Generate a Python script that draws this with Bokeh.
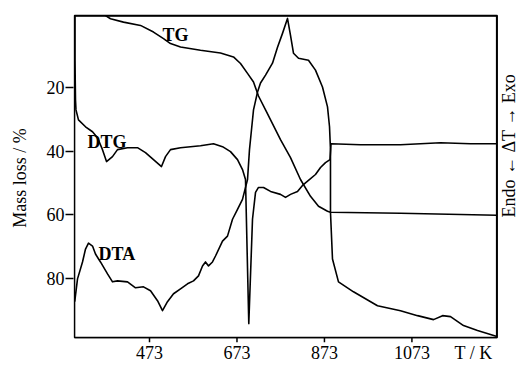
import math
from bokeh.plotting import figure
from bokeh.models import Range1d, FixedTicker, Label, BoxAnnotation
from bokeh.core.properties import value
from bokeh.embed import file_html
from bokeh.resources import INLINE

# ---- data (T in K, curve values on the mass-loss scale) ----
x_ticks = [473, 673, 873, 1073]
y_ticks = [20, 40, 60, 80]

tg_T = [372.4, 383.8, 413.5, 452.4, 482.1, 505.0, 521.0, 543.9, 589.6, 635.3, 665.0,
        681.1, 697.1, 710.8, 722.2, 738.3, 772.5, 795.4, 818.2, 841.1, 859.4, 880.0,
        886.8, 1046.9, 1267.5]
tg_v = [-2.6, -1.63, -0.56, 0.47, 2.56, 4.63, 6.19, 7.25, 8.28, 9.13, 10.38,
        12.44, 15.56, 18.28, 22.66, 27.03, 36.41, 42.03, 48.91, 54.22, 57.34, 58.91,
        59.22, 59.53, 60.16]

dtg_T = [302.6, 302.6, 303.8, 304.9, 310.6, 326.7, 342.7, 354.1, 365.5, 374.7, 388.4,
         399.8, 422.7, 445.5, 463.8, 482.1, 500.4, 509.6, 521.0, 543.9, 589.6, 619.3,
         639.9, 658.2, 674.2, 685.6, 692.5, 700.0, 708.5, 715.4, 722.2, 733.7, 749.7,
         772.5, 784.0, 795.4, 811.4, 822.8, 836.5, 852.5, 864.0, 875.4, 885.7, 888.0,
         955.4, 1046.9, 1092.6, 1138.3, 1206.9, 1267.5]
dtg_v = [-2.6, 11.41, 23.91, 27.03, 30.16, 32.34, 33.91, 35.78, 39.53, 43.28, 41.72,
         39.53, 38.91, 38.91, 40.47, 42.66, 44.84, 41.72, 39.53, 38.91, 38.28, 37.66,
         38.59, 40.16, 42.66, 45.78, 48.91, 94.22, 61.41, 52.97, 51.41, 51.41, 52.66,
         53.59, 54.53, 53.59, 52.66, 50.78, 49.22, 47.34, 45.16, 43.59, 42.66, 37.66,
         37.97, 37.97, 37.66, 37.34, 37.66, 37.66]

dta_T = [302.0, 308.4, 319.8, 326.7, 333.5, 342.7, 349.5, 360.9, 377.0, 388.4, 399.8,
         422.7, 441.0, 459.3, 475.3, 491.3, 502.7, 514.1, 527.9, 543.9, 559.9, 573.6,
         585.0, 594.2, 601.0, 607.9, 617.0, 623.9, 639.9, 651.3, 662.8, 674.2, 685.6,
         692.5, 697.1, 701.6, 706.2, 710.8, 720.0, 726.8, 738.3, 754.2, 765.7, 777.1,
         788.5, 795.4, 802.2, 813.7, 836.5, 852.5, 868.5, 880.0, 884.6, 886.8, 886.8,
         891.4, 905.1, 939.4, 994.3, 1046.9, 1085.8, 1122.4, 1143.0, 1161.3, 1191.0,
         1223.0, 1267.5]
dta_v = [87.34, 80.16, 74.84, 70.78, 68.91, 69.84, 72.34, 74.84, 78.59, 81.09, 80.78,
         81.09, 82.97, 82.66, 83.91, 87.03, 90.16, 87.34, 84.84, 83.28, 81.72, 80.78,
         79.22, 76.09, 74.84, 76.09, 74.84, 72.97, 68.28, 66.72, 61.41, 58.28, 55.16,
         51.41, 48.91, 39.53, 33.28, 27.03, 21.41, 18.59, 16.09, 12.34, 7.34, 2.97,
         -1.72, 3.59, 9.22, 10.78, 11.41, 14.53, 19.84, 26.09, 32.34, 39.53, 59.22,
         73.91, 81.09, 84.22, 88.59, 90.16, 91.72, 92.97, 91.72, 92.03, 94.84,
         96.41, 98.28]

# ---- layout constants (plot box in data units) ----
X_MIN, X_MAX = 301.5, 1268.0      # left / right border of the box
Y_TOP, Y_BOT = -2.65, 98.6        # top / bottom border of the box
KPX = 2.2865                      # K per pixel
VPX = 1 / 3.2                     # value units per pixel
UNIT_X = 1214.0                   # position of the "T / K" text on the x row

FONT = "Liberation Serif"

p = figure(width=519, height=365, output_backend="svg", toolbar_location=None,
           x_range=Range1d(X_MIN - 1 * KPX, X_MIN + 445 * KPX),
           y_range=Range1d(Y_BOT + 5 * VPX, Y_TOP - 2 * VPX),
           min_border_left=73, min_border_right=0, min_border_top=13, min_border_bottom=21)
p.xgrid.visible = False
p.ygrid.visible = False
p.outline_line_color = None
p.background_fill_color = "white"
p.border_fill_color = "white"

# x axis: labels only (tick marks drawn at the box edge below)
p.xaxis.ticker = FixedTicker(ticks=x_ticks + [UNIT_X])
p.xaxis.major_label_overrides = {UNIT_X: "T / K"}
p.xaxis.major_tick_out = 0
p.xaxis.major_tick_in = 0
p.xaxis.minor_tick_out = 0
p.xaxis.minor_tick_in = 0
p.xaxis.axis_line_color = None
p.xaxis.major_label_standoff = 0
p.xaxis.major_label_text_font = FONT
p.xaxis.major_label_text_font_size = "18px"
p.xaxis.major_label_text_color = "black"

# y axis
p.yaxis.ticker = FixedTicker(ticks=y_ticks)
p.yaxis.major_tick_out = 8
p.yaxis.major_tick_in = 0
p.yaxis.minor_tick_out = 0
p.yaxis.minor_tick_in = 0
p.yaxis.major_tick_line_color = "black"
p.yaxis.major_tick_line_width = 1.5
p.yaxis.axis_line_color = None
p.yaxis.major_label_standoff = 1
p.yaxis.major_label_text_font = FONT
p.yaxis.major_label_text_font_size = "18px"
p.yaxis.major_label_text_color = "black"
p.yaxis.axis_label = "Mass loss / %"
p.yaxis.axis_label_text_font = FONT
p.yaxis.axis_label_text_font_size = "18px"
p.yaxis.axis_label_text_font_style = "normal"
p.yaxis.axis_label_text_color = "black"
p.yaxis.axis_label_standoff = 14

# plot box
p.add_layout(BoxAnnotation(left=X_MIN, right=X_MAX, top=Y_TOP, bottom=Y_BOT,
                           fill_alpha=0, line_color="black", line_alpha=1.0, line_width=1.5))
p.segment(x0=[X_MIN, X_MIN, X_MAX - 0.7 * KPX, X_MIN], y0=[Y_TOP, Y_TOP + 0.7 * VPX, Y_TOP, Y_BOT],
          x1=[X_MIN, X_MAX, X_MAX - 0.7 * KPX, X_MAX], y1=[Y_BOT, Y_TOP + 0.7 * VPX, Y_BOT, Y_BOT],
          line_color="black", line_width=1.2)
# x tick marks
p.segment(x0=x_ticks, y0=[Y_BOT] * len(x_ticks), x1=x_ticks,
          y1=[Y_BOT + 5 * VPX] * len(x_ticks), line_color="black", line_width=1.5)

# curves
for xs, ys in ((tg_T, tg_v), (dtg_T, dtg_v), (dta_T, dta_v)):
    p.line(xs, ys, line_color="black", line_width=1.6, line_join="round")

for txt, x, y in (("TG", 502.7, 3.6), ("DTG", 331.2, 37.0), ("DTA", 356.4, 72.3)):
    p.add_layout(Label(x=x, y=y, text=txt, text_font=FONT, text_font_style="bold",
                       text_font_size="18px", text_color="black", text_baseline="alphabetic"))

# right-hand axis title, reading upwards
p.text(x=[X_MAX + 11.5 * KPX], y=[38.3], text=["Endo \u2190 \u0394T \u2192 Exo"],
       angle=math.pi / 2, text_align="center", text_baseline="middle",
       text_font=value(FONT), text_font_size="18px", text_color="black")

open("out.html", "w").write(file_html(p, INLINE))
